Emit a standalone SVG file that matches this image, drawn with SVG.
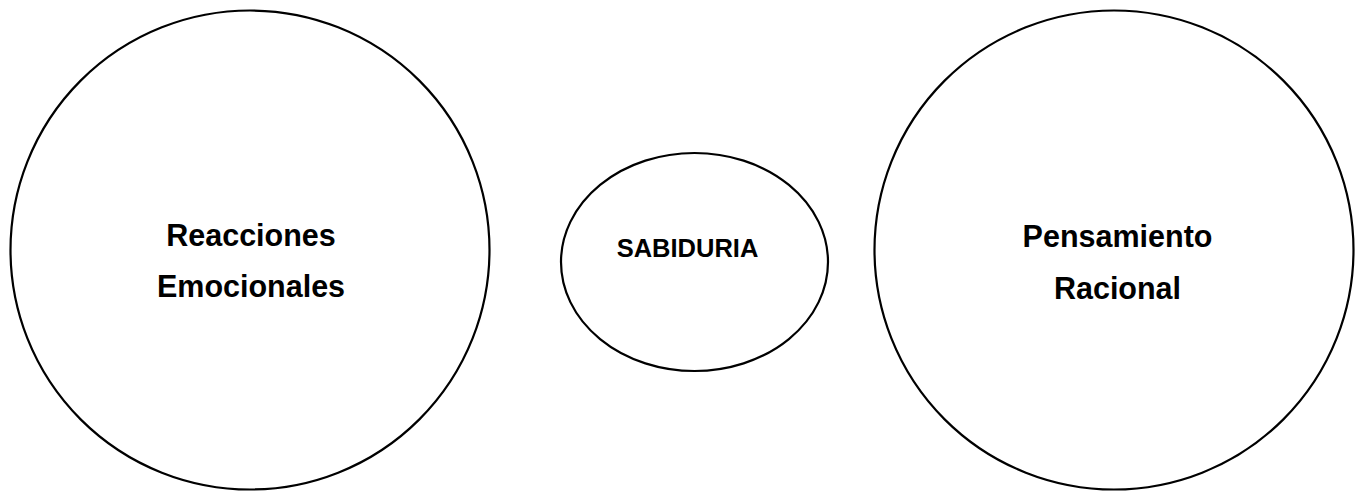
<svg xmlns="http://www.w3.org/2000/svg" width="1361" height="492" viewBox="0 0 1361 492">
<style>
.shape{fill:#ffffff;stroke:#000000;stroke-width:2.2}
.lbl{font-family:"Liberation Sans",Arial,sans-serif;font-weight:bold;fill:#000000;text-anchor:middle}
.big{font-size:30.5px}
.small{font-size:25.5px}
</style>
<rect x="0" y="0" width="1361" height="492" fill="#ffffff"/>
<g id="connectors"></g>
<g id="node-emocional">
<circle class="shape" cx="250" cy="250" r="239.5"/>
<text class="lbl big" x="251" y="246">Reacciones</text>
<text class="lbl big" x="251" y="297">Emocionales</text>
</g>
<g id="node-sabiduria">
<ellipse class="shape" cx="694.5" cy="262" rx="133.5" ry="109"/>
<text class="lbl small" x="687.5" y="257">SABIDURIA</text>
</g>
<g id="node-racional">
<circle class="shape" cx="1114" cy="250" r="239.5"/>
<text class="lbl big" x="1117.5" y="247">Pensamiento</text>
<text class="lbl big" x="1117.5" y="299">Racional</text>
</g>
</svg>
